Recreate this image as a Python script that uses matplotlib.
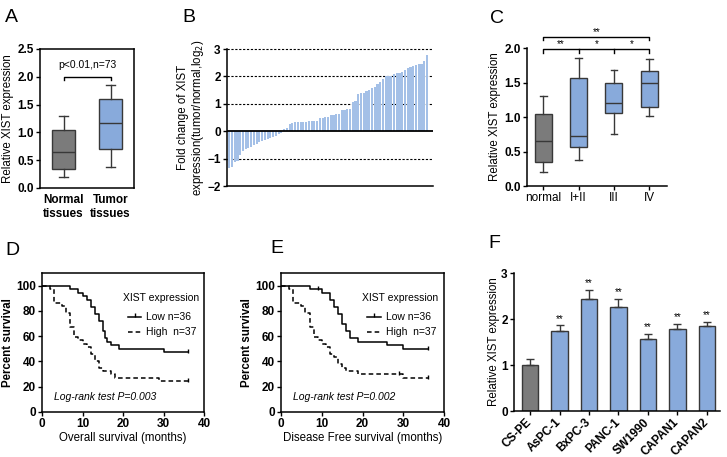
import matplotlib
matplotlib.use("Agg")
import matplotlib.pyplot as plt
import numpy as np

plt.rcParams["font.family"] = ["Liberation Sans", "DejaVu Sans"]
plt.rcParams["font.size"] = 8

W, H = 727, 457
GRAY = "#7b7b7b"
BLUE = "#88aadb"
BLUE_LIGHT = "#a4c0e7"
EDGE = "#383838"

# ---- data ----
# A: box stats (whislo, q1, med, q3, whishi)
a_labels = ["Normal\ntissues", "Tumor\ntissues"]
a_stats = [(0.20, 0.35, 0.65, 1.05, 1.30),
           (0.37, 0.70, 1.17, 1.60, 1.85)]

# B: log2 fold change per patient (sorted)
b_neg = [-1.33, -1.30, -1.12, -1.08, -0.88, -0.72, -0.66, -0.60, -0.56, -0.50,
         -0.45, -0.40, -0.36, -0.32, -0.28, -0.25, -0.21, -0.17, -0.12, -0.06]
b_pos = [0.08, 0.12, 0.27, 0.30, 0.32, 0.33, 0.35, 0.35, 0.35, 0.36,
         0.36, 0.36, 0.38, 0.48, 0.50, 0.52, 0.52, 0.60, 0.60, 0.61,
         0.62, 0.78, 0.79, 0.80, 0.82, 1.05, 1.12, 1.36, 1.38, 1.38,
         1.45, 1.52, 1.58, 1.62, 1.72, 1.80, 1.92, 2.00, 2.01, 2.02,
         2.10, 2.11, 2.13, 2.15, 2.22, 2.32, 2.36, 2.38, 2.42, 2.44,
         2.46, 2.56, 2.77]
b_values = b_neg + b_pos

# C: box stats by stage
c_labels = ["normal", "I+II", "III", "IV"]
c_stats = [(0.20, 0.35, 0.65, 1.04, 1.30),
           (0.37, 0.56, 0.73, 1.57, 1.85),
           (0.76, 1.06, 1.21, 1.50, 1.68),
           (1.02, 1.14, 1.50, 1.67, 1.84)]

# D: overall survival, step times and survival (%)
d_low_t = [0, 7, 9, 10, 11, 12, 13, 14, 15, 15.5, 16, 17, 19, 26, 30, 36]
d_low_s = [100, 97.2, 94.4, 91.7, 88.9, 83.3, 77.8, 72.2, 63.9, 58.3, 55.6, 52.8, 50.0, 50.0, 47.2, 47.2]
d_high_t = [0, 2, 3, 5, 6, 7, 8, 9, 10, 11, 12, 13, 14, 15, 17, 18, 29, 36]
d_high_s = [100, 97.3, 86.5, 83.8, 78.4, 67.6, 59.5, 56.8, 54.1, 51.4, 45.9, 40.5, 35.1, 32.4, 29.7, 27.0, 24.3, 24.3]

# E: disease free survival
e_low_t = [0, 7, 10, 12, 13, 14, 15, 16, 17, 19, 26, 30, 36]
e_low_s = [100, 97.2, 94.4, 88.9, 83.3, 77.8, 69.4, 63.9, 58.3, 55.6, 52.8, 50.0, 50.0]
e_high_t = [0, 2, 3, 5, 6, 7, 8, 9, 10, 11, 12, 13, 14, 15, 16, 19, 30, 36]
e_high_s = [100, 97.3, 86.5, 83.8, 78.4, 67.6, 59.5, 56.8, 54.1, 51.4, 45.9, 43.2, 37.8, 35.1, 32.4, 29.7, 27.0, 27.0]

# F: cell lines
f_labels = ["CS-PE", "AsPC-1", "BxPC-3", "PANC-1", "SW1990", "CAPAN1", "CAPAN2"]
f_means = [1.01, 1.73, 2.43, 2.27, 1.56, 1.78, 1.84]
f_err = [0.11, 0.13, 0.21, 0.16, 0.11, 0.11, 0.10]


def add_ax(l, t, r, b):
    return fig.add_axes([l / W, 1 - b / H, (r - l) / W, (b - t) / H])


def style(ax, box=False):
    for s in ax.spines.values():
        s.set_linewidth(1.1)
    if not box:
        ax.spines["top"].set_visible(False)
        ax.spines["right"].set_visible(False)
    ax.tick_params(direction="out", length=3, width=1.0, labelsize=8.5, pad=1.5)
    for lab in ax.get_yticklabels():
        lab.set_fontweight("bold")


def boxes(ax, stats, colors, width):
    st = [dict(whislo=s[0], q1=s[1], med=s[2], q3=s[3], whishi=s[4], fliers=[]) for s in stats]
    res = ax.bxp(st, positions=range(len(st)), widths=width, patch_artist=True,
                 showfliers=False, capwidths=width * 0.4,
                 boxprops=dict(edgecolor=EDGE, linewidth=1.0),
                 medianprops=dict(color=EDGE, linewidth=1.0),
                 whiskerprops=dict(color=EDGE, linewidth=1.0),
                 capprops=dict(color=EDGE, linewidth=1.0))
    for p, c in zip(res["boxes"], colors):
        p.set_facecolor(c)


def step_at(t, s, c):
    return s[np.searchsorted(t, c, side="right") - 1]


fig = plt.figure(figsize=(W / 100, H / 100), dpi=100)

# ---- A ----
axA = add_ax(40, 49, 134, 188)
boxes(axA, a_stats, [GRAY, BLUE], 0.5)
axA.set_xlim(-0.5, 1.5)
axA.set_ylim(0, 2.5)
axA.set_yticks(np.arange(0, 2.6, 0.5))
axA.set_xticks([0, 1])
axA.set_xticklabels(a_labels, fontweight="bold", linespacing=1.3)
axA.set_ylabel("Relative XIST expression", labelpad=2, fontsize=8.3)
style(axA, box=True)
axA.tick_params(axis="x", length=0, pad=4)
axA.plot([0, 0, 1, 1], [1.95, 2.0, 2.0, 1.95], color="k", lw=1.0)
axA.text(0.5, 2.22, "p<0.01,n=73", ha="center", va="center", fontsize=7.5)

# ---- B ----
axB = add_ax(227, 49, 433, 186)
xb = np.arange(len(b_values))
axB.bar(xb, b_values, width=0.78, color=BLUE_LIGHT, linewidth=0)
for yv in [3, 2, 1, -1]:
    axB.axhline(yv, color="k", lw=0.8, ls=(0, (2, 1.5)), clip_on=False, zorder=0)
axB.axhline(0, color="k", lw=1.3)
axB.set_xlim(-0.8, len(b_values) + 1.2)
axB.set_ylim(-2, 3)
axB.set_yticks(range(-2, 4))
axB.set_xticks([])
axB.set_ylabel("Fold change of XIST\nexpression(tumor/normal,log$_2$)", linespacing=1.1, fontsize=8.3)
axB.yaxis.set_label_coords(-0.1, 0.5)
style(axB)

# ---- C ----
axC = add_ax(527, 48, 667, 186)
boxes(axC, c_stats, [GRAY, BLUE, BLUE, BLUE], 0.48)
axC.set_xlim(-0.46, 3.5)
axC.set_ylim(0, 2.0)
axC.set_yticks(np.arange(0, 2.1, 0.5))
axC.set_xticks(range(4))
axC.set_xticklabels(c_labels)
axC.set_ylabel("Relative XIST expression", labelpad=2, fontsize=8.3)
style(axC)
axC.plot([0, 0, 3, 3], [2.115, 2.16, 2.16, 2.115], color="k", lw=1.0, clip_on=False)
axC.text(1.5, 2.165, "**", ha="center", va="bottom", fontsize=7)
axC.plot([0, 0, 3, 3], [1.93, 1.985, 1.985, 1.93], color="k", lw=1.0, clip_on=False)
axC.plot([1, 1], [1.93, 1.985], color="k", lw=1.0, clip_on=False)
axC.plot([2, 2], [1.93, 1.985], color="k", lw=1.0, clip_on=False)
for xm, s in [(0.5, "**"), (1.5, "*"), (2.5, "*")]:
    axC.text(xm, 1.99, s, ha="center", va="bottom", fontsize=7)


# ---- D, E ----
def km(ax, lt, ls_, ht, hs, xlabel, ptext, low_cens, high_cens):
    ax.step(lt, ls_, where="post", color="k", lw=1.1)
    ax.step(ht, hs, where="post", color="k", lw=1.1, ls=(0, (3, 2)))
    ax.plot(low_cens, [step_at(lt, ls_, c) + 1 for c in low_cens],
            ls="none", marker="|", ms=3, mew=1.0, color="k")
    ax.plot(high_cens, [step_at(ht, hs, c) + 1 for c in high_cens],
            ls="none", marker="|", ms=3, mew=1.0, color="k")
    ax.set_xlim(0, 40)
    ax.set_ylim(0, 110)
    ax.set_xticks(range(0, 41, 10))
    ax.set_yticks(range(0, 101, 20))
    ax.set_xlabel(xlabel, labelpad=1, fontsize=8.3)
    ax.set_ylabel("Percent survival", fontweight="bold", labelpad=1, fontsize=8.3)
    style(ax, box=True)
    for lab in ax.get_xticklabels():
        lab.set_fontweight("bold")
    ax.text(20, 90, "XIST expression", fontsize=7.5, va="center")
    ax.plot([21.2, 24.5], [75.5, 75.5], color="k", lw=1.1)
    ax.plot([22.85], [76.5], marker="|", ms=3, mew=1.0, color="k")
    ax.plot([21.2, 24.5], [63.5, 63.5], color="k", lw=1.1, ls=(0, (3, 2)))
    ax.text(25.7, 75.5, "Low n=36", fontsize=7.5, va="center")
    ax.text(25.7, 63.5, "High  n=37", fontsize=7.5, va="center")
    ax.text(2.9, 12, ptext, fontsize=7.5, style="italic", va="center")


axD = add_ax(42, 273, 204, 412)
km(axD, d_low_t, d_low_s, d_high_t, d_high_s, "Overall survival (months)",
   "Log-rank test P=0.003", [36], [36])
axE = add_ax(281, 273, 444, 412)
km(axE, e_low_t, e_low_s, e_high_t, e_high_s, "Disease Free survival (months)",
   "Log-rank test P=0.002", [9, 36], [29, 36])

# ---- F ----
axF = add_ax(514, 273, 720, 411)
xf = np.arange(len(f_labels))
axF.bar(xf, f_means, width=0.56, color=[GRAY] + [BLUE] * 6, edgecolor=EDGE, linewidth=1.0)
axF.errorbar(xf, f_means, yerr=[np.zeros(len(f_err)), f_err], fmt="none",
             ecolor=EDGE, elinewidth=1.0, capsize=3, capthick=1.0)
for x, m, e in zip(xf[1:], f_means[1:], f_err[1:]):
    axF.text(x, m + e + 0.04, "**", ha="center", va="bottom", fontsize=7)
axF.set_xlim(-0.55, 6.45)
axF.set_ylim(0, 3)
axF.set_yticks(range(4))
axF.set_xticks(xf)
axF.set_xticklabels(f_labels, rotation=45, ha="right", va="center",
                    rotation_mode="anchor", fontweight="bold", fontsize=8)
axF.set_ylabel("Relative XIST expression", labelpad=1, fontsize=8.3)
style(axF)
axF.tick_params(axis="x", pad=4)

# ---- panel letters ----
for lab, x, y in [("A", 5, 22), ("B", 182, 22), ("C", 490, 23),
                  ("D", 5, 255), ("E", 270, 253), ("F", 488, 248)]:
    fig.text(x / W, 1 - y / H, lab, fontsize=14, va="baseline", ha="left")

fig.savefig("out.png", dpi=100)
